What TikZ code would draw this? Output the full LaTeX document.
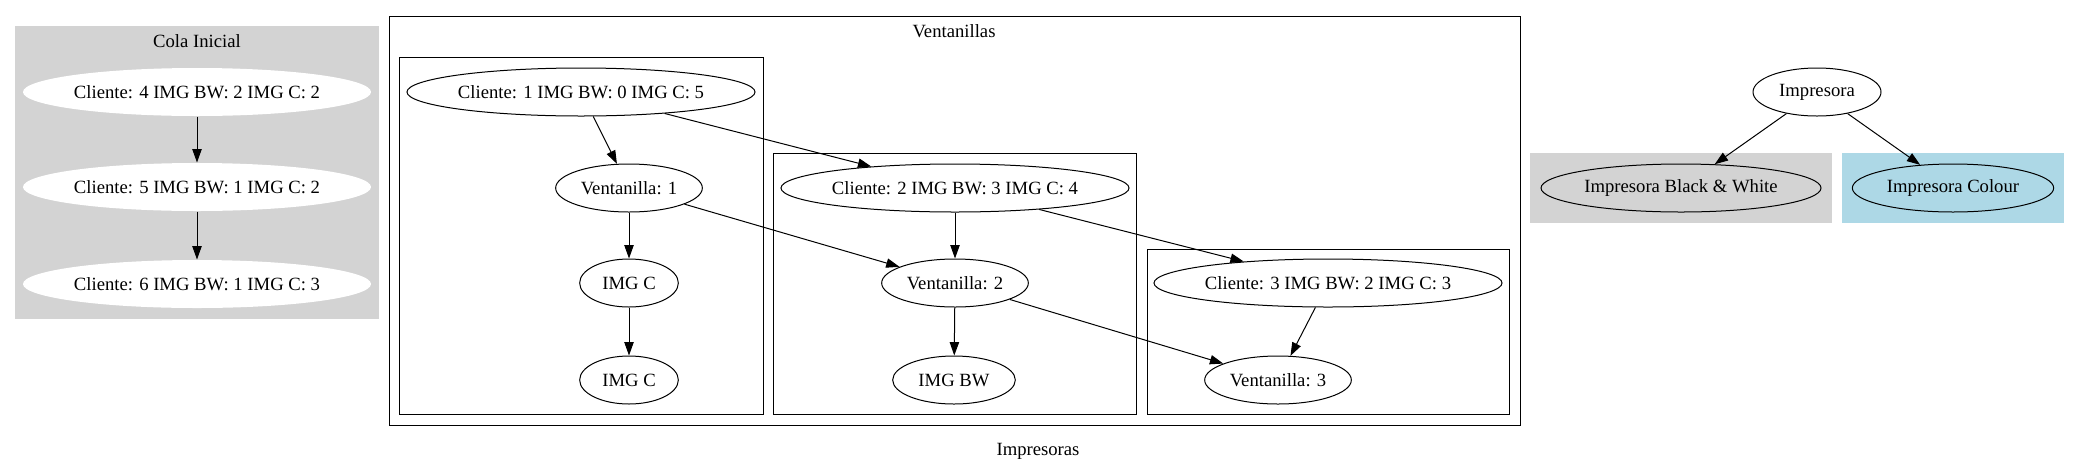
\documentclass[tikz,border=0pt]{standalone}
\usepackage{fontspec}
\setmainfont{Liberation Serif}
\usetikzlibrary{shapes.geometric,arrows.meta}
\definecolor{lgrey}{HTML}{D3D3D3}
\definecolor{lblue}{HTML}{ADD8E6}
\tikzset{
  gvnode/.style={ellipse,draw=black,line width=0.75pt,inner sep=0pt,minimum height=36pt,font=\fontsize{14pt}{16pt}\selectfont},
  whitenode/.style={gvnode,draw=none,fill=white},
  gvedge/.style={line width=0.75pt,-{Triangle[length=10pt,width=7pt]}},
  clusterbox/.style={draw=black,line width=0.75pt},
  lbl/.style={font=\fontsize{14pt}{16pt}\selectfont,inner sep=0pt}
}
\begin{document}
\begin{tikzpicture}[x=0.75pt,y=-0.75pt]
\useasboundingbox (0,0) rectangle (2080,472);
% Cola Inicial
\fill[lgrey] (15,26) rectangle (379,319);
\node[lbl] (tcola) at (197,41) {Cola Inicial};
\node[whitenode,minimum width=256pt] (c4) at (197,92) {Cliente: 4 IMG BW: 2 IMG C: 2};
\node[whitenode,minimum width=256pt] (c5) at (197,187) {Cliente: 5 IMG BW: 1 IMG C: 2};
\node[whitenode,minimum width=256pt] (c6) at (197,284) {Cliente: 6 IMG BW: 1 IMG C: 3};
\draw[gvedge] (c4) -- (c5);
\draw[gvedge] (c5) -- (c6);
% Ventanillas
\draw[clusterbox] (389,16) rectangle (1520,425);
\node[lbl] (tvent) at (954,31) {Ventanillas};
\draw[clusterbox] (399,57) rectangle (763,414);
\draw[clusterbox] (773,153) rectangle (1136,414);
\draw[clusterbox] (1147,249) rectangle (1509,414);
\node[gvnode,minimum width=255pt] (cl1) at (581,92) {Cliente: 1 IMG BW: 0 IMG C: 5};
\node[gvnode,minimum width=110pt] (v1) at (629,188) {Ventanilla: 1};
\node[gvnode,minimum width=74pt] (ic1) at (629,283) {IMG C};
\node[gvnode,minimum width=74pt] (ic2) at (629,380) {IMG C};
\node[gvnode,minimum width=257pt] (cl2) at (955,188) {Cliente: 2 IMG BW: 3 IMG C: 4};
\node[gvnode,minimum width=110pt] (v2) at (955,283) {Ventanilla: 2};
\node[gvnode,minimum width=92pt] (ibw) at (954,380) {IMG BW};
\node[gvnode,minimum width=256pt] (cl3) at (1328,283) {Cliente: 3 IMG BW: 2 IMG C: 3};
\node[gvnode,minimum width=110pt] (v3) at (1278,380) {Ventanilla: 3};
\draw[gvedge] (cl1) -- (v1);
\draw[gvedge] (cl1) -- (cl2);
\draw[gvedge] (v1) -- (ic1);
\draw[gvedge] (ic1) -- (ic2);
\draw[gvedge] (v1) -- (v2);
\draw[gvedge] (cl2) -- (v2);
\draw[gvedge] (cl2) -- (cl3);
\draw[gvedge] (v2) -- (ibw);
\draw[gvedge] (v2) -- (v3);
\draw[gvedge] (cl3) -- (v3);
% Impresoras
\fill[lgrey] (1530,153) rectangle (1832,223);
\fill[lblue] (1842,153) rectangle (2064,223);
\node[gvnode,minimum width=96pt] (imp) at (1817,92) {Impresora};
\node[gvnode,fill=lgrey,minimum width=210pt] (ibwp) at (1681,188) {Impresora Black \& White};
\node[gvnode,fill=lblue,minimum width=151pt] (icp) at (1953,188) {Impresora Colour};
\draw[gvedge] (imp) -- (ibwp);
\draw[gvedge] (imp) -- (icp);
\node[lbl] (timp) at (1038,451) {Impresoras};
\end{tikzpicture}
\end{document}
